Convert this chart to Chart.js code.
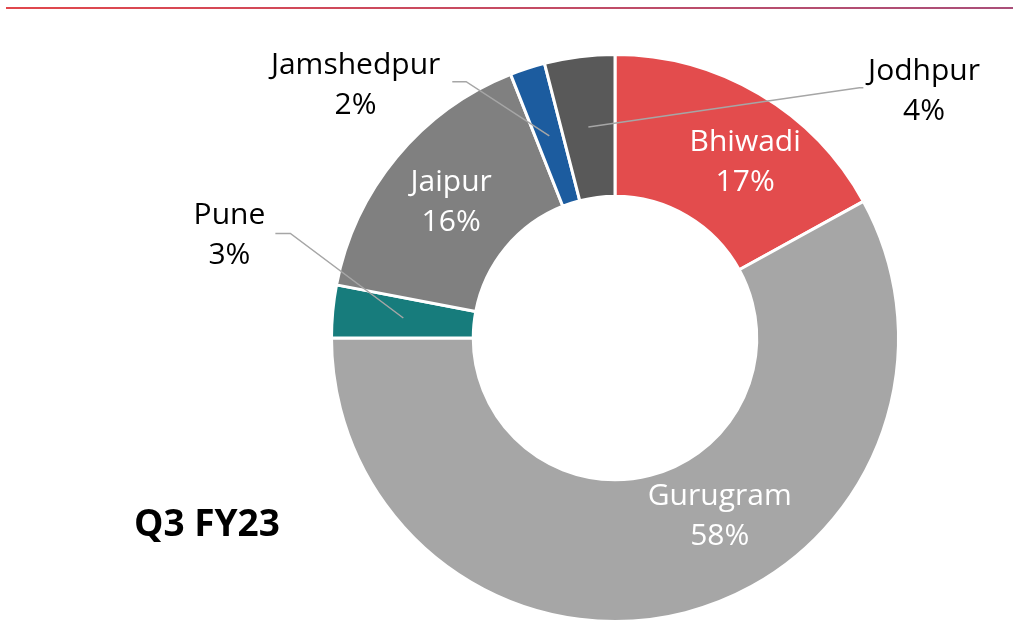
<!DOCTYPE html>
<html>
<head>
<meta charset="utf-8">
<script src="https://cdn.jsdelivr.net/npm/chart.js@4/dist/chart.umd.min.js"></script>
<style>
  html, body { margin: 0; padding: 0; background: #fff; }
  #wrap { position: relative; width: 1013px; height: 621px; overflow: hidden; }
  #topline { position: absolute; left: 6px; right: 0; top: 7px; height: 2px;
    background: linear-gradient(to right, #e1474c, #aa4f79); }
  #period { position: absolute; left: 134px; top: 496px; font: bold 37px 'Open Sans', sans-serif; color: #000; }
  canvas { position: absolute; left: 0; top: 0; }
</style>
</head>
<body>
<div id="wrap">
  <div id="topline"></div>
  <canvas id="donut" width="1013" height="640"></canvas>
  <div id="period">Q3 FY23</div>
</div>
<script>
const cities = ['Bhiwadi', 'Gurugram', 'Pune', 'Jaipur', 'Jamshedpur', 'Jodhpur'];
const shares = [17, 58, 3, 16, 2, 4];
const sliceColors = ['#e34c4d', '#a6a6a6', '#177c7c', '#808080', '#1c5c9f', '#595959'];

// label placement, in units of the outer radius from the centre
const labelStyle = {
  Bhiwadi:    { inside: true, shift: 6, r: 0.77 },
  Gurugram:   { inside: true, shift: -16, r: 0.73 },
  Jaipur:     { inside: true, shift: 0 },
  Pune:       { elbow: [-1.145, -0.369], end: [-1.198, -0.369], text: [-1.36, -0.36] },
  Jamshedpur: { elbow: [-0.525, -0.904], end: [-0.574, -0.904], text: [-0.915, -0.89] },
  Jodhpur:    { elbow: [0.862, -0.883], end: [0.876, -0.883], text: [1.09, -0.87] }
};

const sliceLabels = {
  id: 'sliceLabels',
  afterDatasetsDraw(chart) {
    const c = chart.ctx;
    const arcs = chart.getDatasetMeta(0).data;
    c.save();
    c.font = '30px "Open Sans", sans-serif';
    c.textAlign = 'center';
    c.textBaseline = 'middle';
    arcs.forEach((arc, i) => {
      const p = arc.getProps(['x', 'y', 'startAngle', 'endAngle', 'innerRadius', 'outerRadius'], true);
      const R = p.outerRadius;
      const st = labelStyle[cities[i]];
      const mid = (p.startAngle + p.endAngle) / 2;
      const lines = [cities[i], shares[i] + '%'];
      if (st.inside) {
        const a = mid + st.shift * Math.PI / 180;
        const r = st.r ? st.r * R : (p.innerRadius + R) / 2;
        const tx = p.x + Math.cos(a) * r, ty = p.y + Math.sin(a) * r;
        c.fillStyle = '#ffffff';
        c.fillText(lines[0], tx, ty - 20);
        c.fillText(lines[1], tx, ty + 20);
      } else {
        const r = (p.innerRadius + R) / 2;
        const sx = p.x + Math.cos(mid) * r, sy = p.y + Math.sin(mid) * r;
        c.strokeStyle = '#a6a6a6';
        c.lineWidth = 1.5;
        c.beginPath();
        c.moveTo(sx, sy);
        c.lineTo(p.x + st.elbow[0] * R, p.y + st.elbow[1] * R);
        c.lineTo(p.x + st.end[0] * R, p.y + st.end[1] * R);
        c.stroke();
        const tx = p.x + st.text[0] * R, ty = p.y + st.text[1] * R;
        c.fillStyle = '#000000';
        c.fillText(lines[0], tx, ty - 20);
        c.fillText(lines[1], tx, ty + 20);
      }
    });
    c.restore();
  }
};

new Chart(document.getElementById('donut'), {
  type: 'doughnut',
  data: {
    labels: cities,
    datasets: [{
      data: shares,
      backgroundColor: sliceColors,
      borderColor: '#ffffff',
      borderWidth: 3,
      hoverOffset: 0
    }]
  },
  options: {
    responsive: false,
    animation: false,
    cutout: '50%',
    layout: { padding: { left: 330, right: 113, top: 53, bottom: 17 } },
    plugins: {
      legend: { display: false },
      tooltip: { enabled: false }
    }
  },
  plugins: [sliceLabels]
});
</script>
</body>
</html>
